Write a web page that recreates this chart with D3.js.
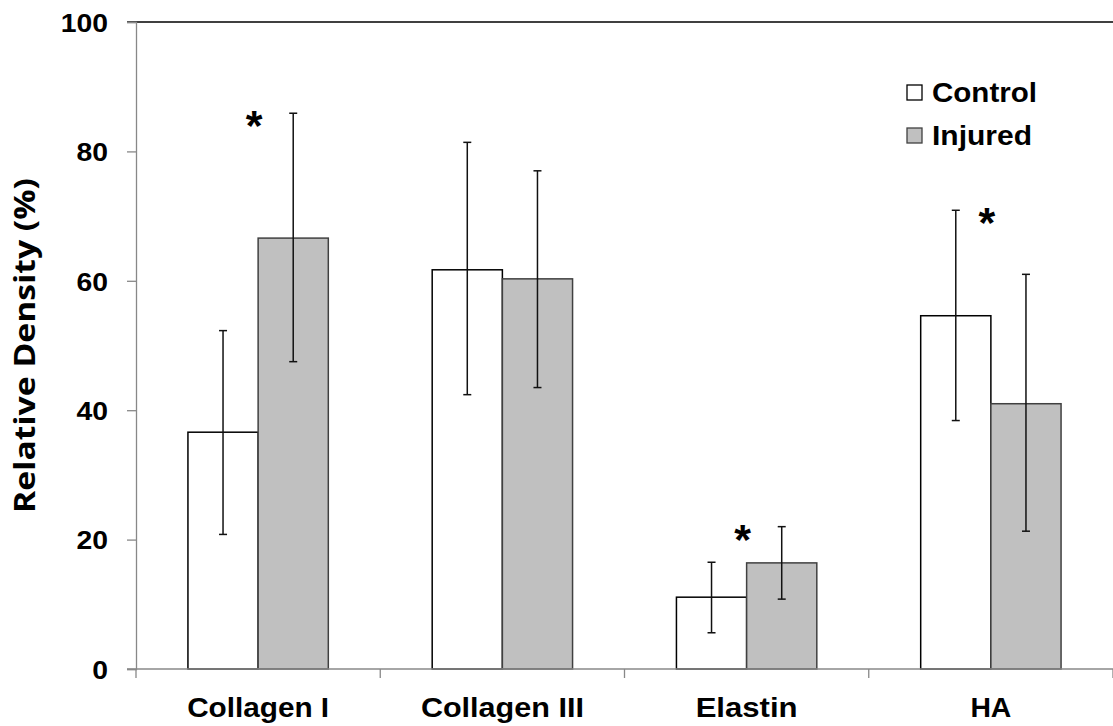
<!DOCTYPE html>
<html><head><meta charset="utf-8">
<script src="https://cdn.jsdelivr.net/npm/d3@7"></script>
<style>body{margin:0;background:#fff}svg{display:block}text{font-family:"Liberation Sans",Arial,sans-serif;font-weight:bold}</style>
</head><body>
<script>
const categories = ["Collagen I", "Collagen III", "Elastin", "HA"];
const seriesNames = ["Control", "Injured"];
const controlMean = [36.6, 61.7, 11.1, 54.6];
const controlHigh = [52.3, 81.4, 16.5, 70.9];
const controlLow  = [20.8, 42.4, 5.6, 38.4];
const injuredMean = [66.6, 60.3, 16.4, 41.0];
const injuredHigh = [85.9, 77.0, 22.0, 61.0];
const injuredLow  = [47.5, 43.5, 10.8, 21.3];
const significant = ["Collagen I", "Elastin", "HA"];
const yTicks = [0, 20, 40, 60, 80, 100];

const labelWidth = {"Collagen I": 142, "Collagen III": 163, "Elastin": 102, "HA": 41, "Control": 105, "Injured": 100};

const W = 1113, H = 726;
const svg = d3.select("body").append("svg").attr("width", W).attr("height", H);
const m = {left: 136, right: 1113, top: 22, bottom: 669};

const x = d3.scaleBand().domain(categories).range([m.left, m.right]).padding(0);
const x1 = d3.scaleBand().domain(seriesNames).range([0, x.bandwidth()]).paddingInner(0).paddingOuter(0.74);
const y = d3.scaleLinear().domain([0, 100]).range([m.bottom, m.top]);

const data = [
  {name: "Control", mean: controlMean, hi: controlHigh, lo: controlLow, fill: "#ffffff", stroke: "#000000"},
  {name: "Injured", mean: injuredMean, hi: injuredHigh, lo: injuredLow, fill: "#c0c0c0", stroke: "#404040"}
];

// top border
svg.append("line").attr("x1", m.left - 9).attr("x2", m.right).attr("y1", y(100)).attr("y2", y(100))
  .attr("stroke", "#000").attr("stroke-width", 1.3);

// y axis
const yAxis = d3.axisLeft(y).tickValues(yTicks).tickSize(9).tickPadding(19);
const gy = svg.append("g").attr("transform", `translate(${m.left},0)`).call(yAxis);
gy.select(".domain").attr("stroke", "#888").attr("stroke-width", 1.3);
gy.selectAll(".tick line").attr("stroke", "#888").attr("stroke-width", 1.3);
gy.selectAll(".tick text").attr("font-size", 26).style("font-family", "Liberation Sans, Arial, sans-serif")
  .style("font-weight", "bold").attr("fill", "#000").attr("dy", "0.36em")
  .each(function() { const t = d3.select(this); t.attr("textLength", this.getComputedTextLength() * 1.09).attr("lengthAdjust", "spacingAndGlyphs"); });

// bars
data.forEach((s) => {
  categories.forEach((c, i) => {
    svg.append("rect")
      .attr("x", x(c) + x1(s.name))
      .attr("y", y(s.mean[i]))
      .attr("width", x1.bandwidth())
      .attr("height", y(0) - y(s.mean[i]))
      .attr("fill", s.fill).attr("stroke", s.stroke).attr("stroke-width", 1.5);
  });
});
// error bars
data.forEach((s) => {
  categories.forEach((c, i) => {
    const cx = x(c) + x1(s.name) + x1.bandwidth() / 2;
    const g = svg.append("g").attr("stroke", "#111").attr("stroke-width", 1.5);
    g.append("line").attr("x1", cx).attr("x2", cx).attr("y1", y(s.hi[i])).attr("y2", y(s.lo[i]));
    g.append("line").attr("x1", cx - 4).attr("x2", cx + 4).attr("y1", y(s.hi[i])).attr("y2", y(s.hi[i]));
    g.append("line").attr("x1", cx - 4).attr("x2", cx + 4).attr("y1", y(s.lo[i])).attr("y2", y(s.lo[i]));
  });
});

// x axis
const gx = svg.append("g").attr("transform", `translate(0,${m.bottom})`);
gx.append("line").attr("x1", m.left - 9).attr("x2", m.right).attr("y1", 0).attr("y2", 0).attr("stroke", "#888").attr("stroke-width", 1.3);
const bounds = categories.map(c => x(c)).concat([x(categories[categories.length - 1]) + x.bandwidth()]);
gx.selectAll("line.tk").data(bounds).enter().append("line").attr("class", "tk")
  .attr("x1", d => d).attr("x2", d => d).attr("y1", 0).attr("y2", 9).attr("stroke", "#888").attr("stroke-width", 1.3);
gx.selectAll("text").data(categories).enter().append("text")
  .attr("x", d => x(d) + x.bandwidth() / 2).attr("y", 48)
  .attr("text-anchor", "middle").attr("font-size", 28)
  .attr("textLength", d => labelWidth[d]).attr("lengthAdjust", "spacingAndGlyphs")
  .text(d => d);

// asterisks
significant.forEach(c => {
  const i = categories.indexOf(c);
  const top = Math.max(controlHigh[i], injuredHigh[i]);
  svg.append("text").attr("x", x(c) + x.bandwidth() / 2 - 4).attr("y", y(top) + 27)
    .attr("text-anchor", "middle").attr("font-size", 43).text("*");
});

// y title
svg.append("text").attr("transform", `translate(35,345.5) rotate(-90)`)
  .attr("text-anchor", "middle").attr("font-size", 28)
  .style("font-family", "'Open Sans', Carlito, sans-serif").style("font-weight", "bold")
  .attr("textLength", 335).attr("lengthAdjust", "spacingAndGlyphs")
  .text("Relative Density (%)");

// legend
const leg = svg.append("g").attr("transform", "translate(907,85)");
data.forEach((s, i) => {
  leg.append("rect").attr("x", 0).attr("y", i * 43).attr("width", 15).attr("height", 15)
    .attr("fill", s.fill).attr("stroke", s.stroke).attr("stroke-width", 1.3);
  leg.append("text").attr("x", 25).attr("y", i * 43 + 17).attr("font-size", 27)
    .attr("textLength", labelWidth[s.name]).attr("lengthAdjust", "spacingAndGlyphs")
    .text(s.name);
});
</script>
</body></html>
